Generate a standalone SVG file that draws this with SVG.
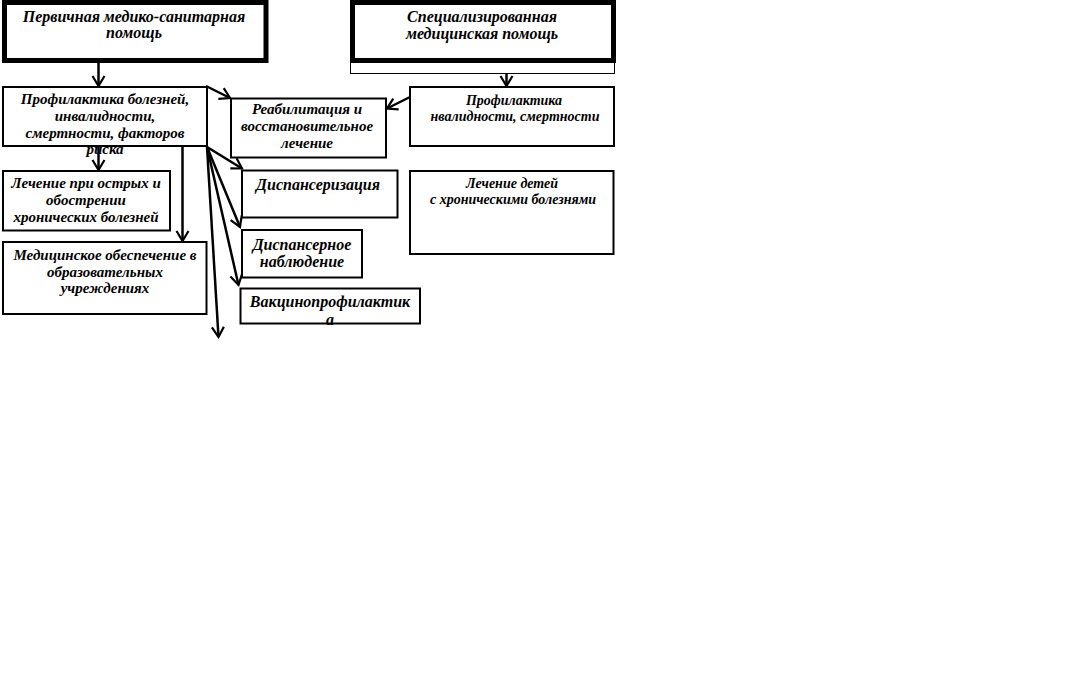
<svg xmlns="http://www.w3.org/2000/svg" width="1083" height="680" viewBox="0 0 1083 680">
<style>
.box{fill:#fff;stroke:#000;stroke-width:2}
.thick{fill:#fff;stroke:#000;stroke-width:5}
.thin{fill:#fff;stroke:#000;stroke-width:1}
text{font-family:"Liberation Serif","Times New Roman",serif;font-style:italic;font-weight:bold;font-size:15px;fill:#000;text-anchor:middle}
.big{font-size:16px}
.sm{font-size:14px}
.con{fill:none;stroke:#000;stroke-width:2.5}
</style>
<defs>
<marker id="arr" markerUnits="userSpaceOnUse" markerWidth="16" markerHeight="16" viewBox="0 0 16 16" refX="14" refY="8" orient="auto">
<path d="M4,2 L14,8 L4,14" fill="none" stroke="#000" stroke-width="2.2"/>
</marker>
</defs>
<rect width="1083" height="680" fill="#fff"/>
<g id="n-primary">
<rect class="thick" x="4.5" y="2.5" width="261.5" height="58"/>
<text class="big" x="134" y="22">Первичная медико-санитарная</text>
<text class="big" x="134" y="38">помощь</text>
</g>
<g id="n-special">
<rect class="thin" x="350.5" y="60.5" width="264" height="13"/>
<rect class="thick" x="352.5" y="2.5" width="261" height="58"/>
<text class="big" x="482" y="22">Специализированная</text>
<text class="big" x="482" y="39">медицинская помощь</text>
</g>
<g id="n-prof1">
<rect class="box" x="3" y="87" width="204" height="59"/>
<text x="105" y="104">Профилактика болезней,</text>
<text x="105" y="121">инвалидности,</text>
<text x="105" y="138">смертности, факторов</text>
<text x="105" y="154">риска</text>
</g>
<g id="n-prof2">
<rect class="box" x="410" y="87" width="204" height="59"/>
<text class="sm" x="514" y="105">Профилактика</text>
<text class="sm" x="515" y="121">нвалидности, смертности</text>
</g>
<g id="n-rehab">
<rect class="box" x="231" y="98.5" width="155" height="59"/>
<text x="307" y="114">Реабилитация и</text>
<text x="307" y="131">восстановительное</text>
<text x="307" y="148">лечение</text>
</g>
<g id="n-acute">
<rect class="box" x="3" y="171" width="167" height="59.5"/>
<text x="86" y="188">Лечение при острых и</text>
<text x="86" y="205">обострении</text>
<text x="86" y="222">хронических болезней</text>
</g>
<g id="n-edu">
<rect class="box" x="3" y="242" width="203.5" height="72"/>
<text x="105" y="260">Медицинское обеспечение в</text>
<text x="105" y="277">образовательных</text>
<text x="105" y="293">учреждениях</text>
</g>
<g id="n-disp">
<rect class="box" x="242" y="170.5" width="155.5" height="47"/>
<text class="big" x="318" y="190">Диспансеризация</text>
</g>
<g id="n-dispnab">
<rect class="box" x="242" y="230" width="120" height="47.5"/>
<text class="big" x="302" y="250">Диспансерное</text>
<text class="big" x="302" y="267">наблюдение</text>
</g>
<g id="n-vacc">
<rect class="box" x="240.5" y="288.5" width="179.5" height="35"/>
<text class="big" x="330" y="307">Вакцинопрофилактик</text>
<text class="big" x="330" y="325">а</text>
</g>
<g id="n-child">
<rect class="box" x="410" y="171" width="203.5" height="83"/>
<text class="sm" x="512" y="188">Лечение детей</text>
<text class="sm" x="513" y="204">с хроническими болезнями</text>
</g>
<g id="connectors">
<line class="con" x1="98.5" y1="63" x2="98.5" y2="86" marker-end="url(#arr)"/>
<line class="con" x1="506.5" y1="74" x2="506.5" y2="86" marker-end="url(#arr)"/>
<line class="con" x1="206" y1="86" x2="230" y2="98" marker-end="url(#arr)"/>
<line class="con" x1="410" y1="97" x2="387" y2="108.5" marker-end="url(#arr)"/>
<line class="con" x1="98.5" y1="146" x2="98.5" y2="170" marker-end="url(#arr)"/>
<line class="con" x1="182.5" y1="146" x2="182.5" y2="241" marker-end="url(#arr)"/>
<line class="con" x1="207" y1="147" x2="242" y2="168.5" marker-end="url(#arr)"/>
<line class="con" x1="207" y1="147" x2="240" y2="227" marker-end="url(#arr)"/>
<line class="con" x1="207" y1="147" x2="238.5" y2="285" marker-end="url(#arr)"/>
<line class="con" x1="207" y1="147" x2="218.5" y2="337" marker-end="url(#arr)"/>
</g>
</svg>
